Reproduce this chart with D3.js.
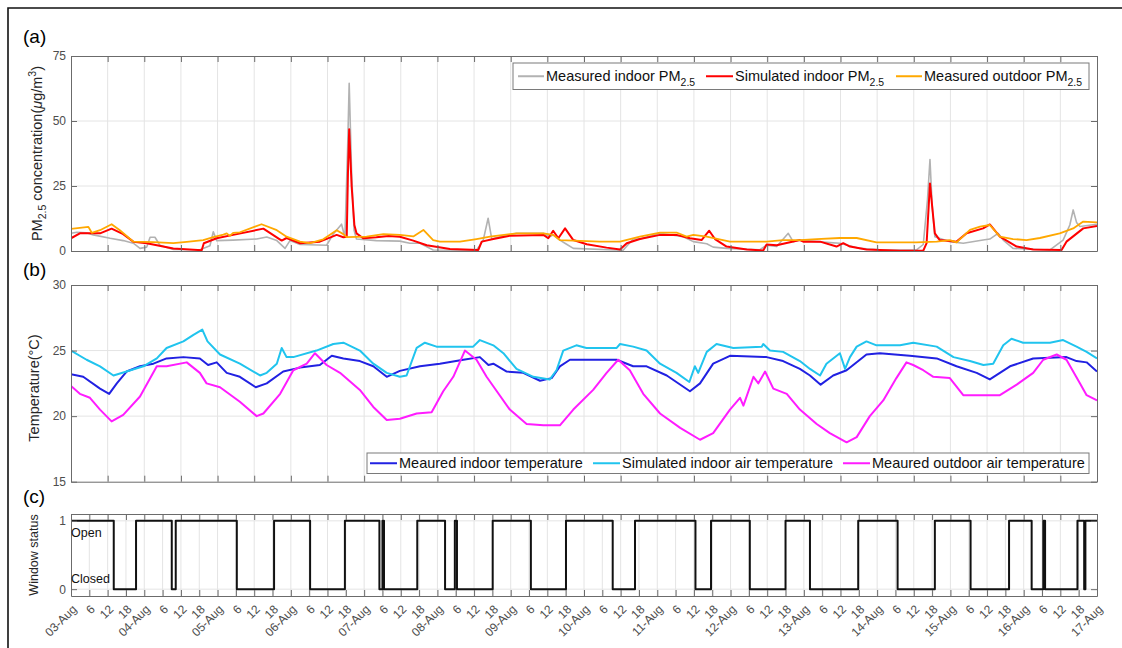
<!DOCTYPE html>
<html>
<head>
<meta charset="utf-8">
<script src="https://cdn.jsdelivr.net/npm/d3@7"></script>
<style>
  body { margin: 0; background: #fff; }
  svg { font-family: "Liberation Sans", Arial, Helvetica, sans-serif; }
</style>
</head>
<body>
<svg id="chart" width="1122" height="648"></svg>
<script>
// ---- Time axis: hours since 03-Aug 00:00, two-week window ----
const totalHours = 336;
const dayLabels = ["03-Aug","04-Aug","05-Aug","06-Aug","07-Aug","08-Aug","09-Aug","10-Aug",
                   "11-Aug","12-Aug","13-Aug","14-Aug","15-Aug","16-Aug","17-Aug"];
const hourLabels = ["6","12","18"];

// ---- (a) PM2.5 concentration, [hour, µg/m³] ----
const pmIndoorMeasured = [[0,6.8],[1.9,7.2],[5.1,7.0],[7.3,6.2],[12.8,4.9],[17.1,4.0],[20.4,3.0],[22.6,1.0],[24.8,1.5],[25.9,5.3],[27.5,5.3],[29.1,2.2],[33.5,0.6],[42.2,0.5],[45.5,2],[46.6,7.4],[47.7,4.0],[53.1,4.2],[60.8,4.6],[64.1,5.4],[67.4,4.0],[70.1,1.0],[71.7,4.0],[75,2.5],[83.7,2.2],[85.9,6.5],[88.6,10.3],[89.7,5.3],[90.6,40],[91.1,64.5],[91.9,30],[92.7,8],[93.5,4.6],[100,4.0],[107.7,3.8],[111,3.0],[114.3,3.0],[118.6,0.4],[132.8,0.3],[135,4.2],[136.6,12.6],[137.8,4.6],[140.5,5.5],[145.9,6.8],[154.7,6.8],[156.8,5.5],[157.9,6.2],[160.1,4.2],[162.3,2.6],[164.5,1.0],[180.8,0.3],[184.1,4.6],[186.3,4.6],[192.9,6.8],[200.5,5.5],[203.8,3.6],[208.2,2.8],[210.3,1.5],[214.7,1.0],[225.6,0.5],[227.8,2.2],[231.1,1.7],[234.9,6.8],[236.5,3.6],[238.7,4.2],[244.2,3.6],[247.4,3.3],[251.8,3.0],[258.4,1.0],[266,0.4],[276.9,0.4],[279.1,2.5],[280.5,20],[281.3,35.2],[282,18],[282.9,5.5],[287.8,3.6],[292.2,3.0],[298.7,4.2],[300.9,4.6],[303.6,6.8],[305.3,4.2],[308.5,1.0],[320.6,0.4],[324.9,4.2],[327.1,10],[328.2,15.8],[329.3,11],[330.4,9.4],[336,10.3]];

const pmIndoorSimulated = [[0,4.9],[2.9,6.8],[9.5,6.8],[13.3,8.6],[17.1,6.5],[20.4,3.6],[24.8,3.0],[33.5,1.0],[42.8,0.3],[43.5,3.0],[47.7,4.9],[53.1,6.2],[63,8.6],[69,4.0],[70.6,5.0],[75,3.0],[81.5,3.6],[87,6.2],[89.2,5.3],[90.3,5.5],[90.7,30],[91.1,46.8],[91.9,25],[92.8,10],[93.5,6.8],[95.7,4.9],[100,5.3],[104,5.8],[107.7,5.5],[112.1,4.0],[116.5,2.2],[124.1,0.8],[133.4,0.4],[134.5,3.6],[138.3,4.6],[143.7,5.9],[154.7,6.2],[156.3,4.9],[157.9,7.8],[159.6,4.9],[161.8,8.7],[164.5,4.2],[168.9,2.6],[175.4,1.3],[179.8,0.6],[182,3.0],[186.3,4.6],[192.9,6.2],[198.3,6.2],[202.7,4.9],[206.5,4.2],[209,7.8],[210.9,4.6],[214.7,1.7],[221.3,0.6],[226.7,0.2],[227.8,2.5],[231.1,2.2],[238.7,4.2],[239.8,3.6],[245.3,3.6],[250.7,1.7],[252.9,3.0],[255.1,1.7],[260.5,0.6],[271.5,0.1],[279.1,0.1],[280.2,3],[281.3,26],[282.2,15],[282.9,6.8],[284.5,4.2],[290,3.6],[293.3,6.8],[298.7,8.7],[300.9,10.2],[304.2,5.5],[309.7,1.7],[315.1,0.6],[324.4,0.4],[326,3.6],[331.5,8.7],[336,9.6]];

const pmOutdoorMeasured = [[0,8.5],[5.7,9.3],[6.8,7],[9.5,8],[13.3,10.3],[16,8],[20.4,3.6],[27,3.4],[33.5,3.0],[37.9,3.5],[43.3,4.2],[46.6,5.3],[49.9,6.3],[51,6.8],[52,5.8],[53.1,7],[55.3,7.2],[62.4,10.3],[67.4,8],[70.6,5.5],[75,3.6],[78.3,3.0],[82.6,4.5],[87,8],[89.2,6.5],[90.3,5.3],[96.8,5.5],[102.3,6.5],[107.7,6.2],[112.1,5.6],[115.4,8.1],[118.6,4.2],[120.8,3.6],[127.4,3.6],[132.8,4.6],[137.2,5.5],[145.9,6.8],[154.7,6.8],[157.9,6.2],[160.1,4.2],[173.2,3.6],[179.8,3.6],[186.3,5.5],[192.9,7.1],[198.3,7.1],[201.6,5.5],[203.8,6.2],[208.2,5.5],[215.8,3.6],[227.8,3.6],[233.2,4.2],[238.7,4.2],[244.2,4.6],[251.8,5.0],[257.3,5.0],[263.8,3.3],[276.9,3.3],[283.5,3.6],[287.8,4.2],[290,3.3],[294.4,8.1],[297.7,9.4],[300.9,10.0],[304.2,5.5],[308.5,4.6],[312.9,4.2],[317.3,5.0],[323.8,6.8],[328.2,8.7],[331.5,11.3],[336,11]];

// ---- (b) Temperature, [hour, °C] ----
const tempIndoorMeasured = [[0,23.2],[4,23.0],[9.5,22.1],[12.5,21.7],[15,22.5],[18.2,23.4],[22.6,23.8],[27,24.0],[31.3,24.4],[36.8,24.5],[42.2,24.4],[44.9,23.9],[47.7,24.1],[51,23.3],[55.3,23.0],[60.5,22.2],[64.1,22.5],[69.5,23.4],[75,23.7],[81.5,23.9],[85.4,24.6],[89.2,24.4],[94.6,24.2],[99,23.8],[103.4,23.0],[107.7,23.45],[114.3,23.8],[120.8,24.0],[128.5,24.3],[133.9,24.5],[136.7,23.9],[138.3,24.0],[142.7,23.4],[148.1,23.3],[153.6,22.7],[157.4,22.9],[160.1,23.8],[163.4,24.3],[171,24.3],[178.7,24.3],[184.1,23.8],[188.5,23.8],[195.1,23.1],[202.7,21.9],[206,22.5],[210.3,24.0],[215.8,24.6],[227.8,24.5],[233.2,24.2],[238.7,23.6],[242,23.1],[245.5,22.4],[249.6,23.1],[254,23.5],[260.5,24.7],[264.9,24.8],[274.7,24.6],[283.5,24.4],[290,23.8],[296.6,23.3],[300.9,22.8],[307.5,23.8],[315.1,24.4],[326,24.5],[329.3,24.2],[332.6,24.1],[336,23.4]];

const tempIndoorSimulated = [[0,25.0],[5.1,24.3],[9.5,23.8],[13.9,23.1],[18.2,23.4],[23.7,23.8],[28.1,24.4],[31.3,25.2],[36.8,25.7],[40.1,26.2],[43,26.6],[44.7,25.7],[48.8,24.7],[55.3,24.0],[61.9,23.1],[64.1,23.3],[67.4,24.0],[69,25.2],[70.6,24.5],[72.8,24.5],[80.4,25.0],[85.9,25.5],[89.2,25.6],[94.6,25.0],[99,24.0],[103.4,23.3],[107.7,23.0],[109.9,23.1],[113.2,25.2],[115.9,25.6],[119.7,25.3],[131.7,25.3],[133.9,25.8],[138.3,25.4],[141.6,24.8],[145.9,23.6],[151.4,23.0],[156.8,22.8],[159,23.5],[161.2,25.0],[165.5,25.4],[168.8,25.2],[178.7,25.2],[179.8,25.5],[184.1,25.3],[188.5,25.0],[192.9,24.0],[198.3,23.3],[202.5,22.6],[204.3,23.8],[205.4,23.3],[208.2,24.9],[211.4,25.5],[216.9,25.2],[226.2,25.3],[226.7,25.5],[228.9,25.0],[233.2,24.9],[238.7,24.2],[242,23.6],[245.3,23.1],[247.4,24.0],[251.8,24.8],[253.5,23.6],[255.1,24.5],[257.3,25.3],[260.5,25.7],[263.8,25.4],[271.5,25.4],[275.8,25.6],[283.5,25.3],[289,24.5],[294.4,24.2],[298.8,23.9],[302,24.0],[305.3,25.4],[308,25.9],[311.8,25.6],[320.6,25.6],[324.9,25.8],[329.3,25.3],[332.6,24.9],[336,24.4]];

const tempOutdoorMeasured = [[0,22.3],[2.9,21.7],[6.2,21.4],[9.5,20.5],[13.3,19.6],[17.1,20.1],[22.6,21.5],[28.1,23.8],[31.3,23.8],[37.9,24.1],[42.2,23.3],[44.4,22.5],[48.8,22.2],[55.3,21.1],[60.8,20.0],[63,20.2],[68.5,21.7],[72.8,23.5],[77.2,24.0],[79.9,24.8],[83.7,23.9],[88.1,23.3],[94.6,22.0],[99,20.7],[103.4,19.7],[107.7,19.8],[113.2,20.2],[118.1,20.3],[121.9,21.9],[125.2,23.0],[129,25.0],[132.8,24.3],[136.1,23.0],[143.7,20.5],[149.2,19.4],[154.7,19.3],[160.1,19.3],[164.5,20.5],[171,22.0],[175.4,23.3],[179.2,24.3],[183,23.5],[187.4,21.7],[192.9,20.2],[199.5,19.1],[206,18.2],[210.3,18.7],[215.8,20.5],[219.1,21.4],[220.2,20.8],[223.5,23.0],[225.1,22.5],[227.3,23.4],[230,22.1],[234.4,21.7],[238.7,20.5],[244.2,19.4],[248.5,18.7],[254,18.0],[257.3,18.4],[261.6,20.0],[266,21.2],[270.3,22.9],[273.6,24.1],[275.8,23.9],[279.1,23.5],[282.4,23.0],[287.8,22.9],[292.2,21.6],[298.7,21.6],[304.2,21.6],[309.7,22.4],[315.1,23.3],[318.4,24.3],[322.8,24.7],[326,24.3],[330.4,22.5],[332.6,21.6],[336,21.2]];

// ---- (c) Window status changes, [hour, state] (1 = open, 0 = closed) ----
const windowStatus = [[0,1],[14,0],[21.3,1],[33,0],[34.3,1],[54.3,0],[66.5,1],[78.3,0],[89.7,1],[101,0],[102,1],[102.5,0],[113.4,1],[122.5,0],[125.7,1],[126.4,0],[138.1,1],[150.6,0],[162.1,1],[177.4,0],[184.7,1],[204.5,0],[209.6,1],[222.3,0],[234,1],[242,0],[257.8,1],[270.7,0],[282.9,1],[294.6,0],[307.2,1],[314.6,0],[318.4,1],[319,0],[329.6,1],[331.8,0],[332.2,1],[336,1]];

const pmTicks = [0,25,50,75];
const tempTicks = [15,20,25,30];
const statusTicks = [0,1];

// ---- Drawing ----
const svg = d3.select("#chart");
const X0 = 71, X1 = 1097;
const x = d3.scaleLinear().domain([0, totalHours]).range([X0, X1]);
const axisColor = "#6b6b6b";
const gridColor = "#e4e4e4";
const tickLabelColor = "#4d4d4d";

// figure frame
svg.append("path").attr("d", "M8,700 V8 H1130")
  .attr("fill", "none").attr("stroke", "#111").attr("stroke-width", 1.6);

function makePanel(cfg) {
  const y = d3.scaleLinear().domain(cfg.domain).range([cfg.bottom, cfg.top]);
  const g = svg.append("g");
  const xTickVals = d3.range(0, totalHours + 0.001, cfg.xStep);

  // grid
  g.append("g").selectAll("line").data(xTickVals.slice(1, -1)).join("line")
    .attr("x1", d => x(d)).attr("x2", d => x(d))
    .attr("y1", cfg.top).attr("y2", cfg.bottom)
    .attr("stroke", gridColor).attr("stroke-width", 1);
  g.append("g").selectAll("line").data(cfg.gridY).join("line")
    .attr("x1", X0).attr("x2", X1)
    .attr("y1", d => y(d)).attr("y2", d => y(d))
    .attr("stroke", gridColor).attr("stroke-width", 1);

  // series
  const clipId = "clip-" + cfg.id;
  svg.append("clipPath").attr("id", clipId).append("rect")
    .attr("x", X0).attr("y", cfg.top).attr("width", X1 - X0).attr("height", cfg.bottom - cfg.top);
  const lines = g.append("g").attr("clip-path", `url(#${clipId})`);
  cfg.series.forEach(s => {
    const line = d3.line().x(d => x(d[0])).y(d => y(d[1])).curve(s.curve || d3.curveLinear);
    lines.append("path").datum(s.data).attr("d", line)
      .attr("fill", "none").attr("stroke", s.color).attr("stroke-width", s.width)
      .attr("stroke-linejoin", "round");
  });

  // axes with inward ticks
  const fmtX = h => {
    const r = h % 24;
    return r === 0 ? dayLabels[h / 24] : hourLabels[r / 6 - 1];
  };
  const bottom = g.append("g").attr("transform", `translate(0,${cfg.bottom})`)
    .call(d3.axisBottom(x).tickValues(xTickVals).tickSizeInner(-6).tickSizeOuter(0)
      .tickPadding(4).tickFormat(cfg.xLabels ? fmtX : ""));
  g.append("g").attr("transform", `translate(0,${cfg.top})`)
    .call(d3.axisTop(x).tickValues(xTickVals).tickSizeInner(-6).tickSizeOuter(0).tickFormat(""));
  g.append("g").attr("transform", `translate(${X0},0)`)
    .call(d3.axisLeft(y).tickValues(cfg.yTicks).tickSizeInner(-6).tickSizeOuter(0)
      .tickPadding(5).tickFormat(d3.format("d")));
  g.append("g").attr("transform", `translate(${X1},0)`)
    .call(d3.axisRight(y).tickValues(cfg.yTicks).tickSizeInner(-6).tickSizeOuter(0).tickFormat(""));

  g.selectAll(".domain").attr("stroke", axisColor);
  g.selectAll(".tick line").attr("stroke", axisColor);
  g.selectAll(".tick text").attr("fill", tickLabelColor)
    .style("font-size", "12px").style("font-family", "'Liberation Sans', Arial, sans-serif");

  if (cfg.xLabels) {
    bottom.selectAll(".tick text")
      .attr("x", 0).attr("y", 0).attr("dy", "0.35em")
      .attr("text-anchor", "end")
      .attr("transform", "translate(3,11) rotate(-45)");
  }
  return { g, y };
}

// (a)
const pa = makePanel({
  id: "a", top: 56, bottom: 251, domain: [0, 75], yTicks: pmTicks, gridY: [25, 50], xStep: 12,
  series: [
    { data: pmIndoorMeasured, color: "#b2b2b2", width: 1.6 },
    { data: pmIndoorSimulated, color: "#ff0000", width: 2 },
    { data: pmOutdoorMeasured, color: "#ffa800", width: 1.8 }
  ]
});

// (b)
const pb = makePanel({
  id: "b", top: 285, bottom: 481.7, domain: [15, 30], yTicks: tempTicks, gridY: [20, 25], xStep: 12,
  series: [
    { data: tempIndoorMeasured, color: "#2121e2", width: 2 },
    { data: tempIndoorSimulated, color: "#20c4ee", width: 2 },
    { data: tempOutdoorMeasured, color: "#ff1cff", width: 2 }
  ]
});

// (c)
const pc = makePanel({
  id: "c", top: 514, bottom: 596, domain: [-0.1, 1.1], yTicks: statusTicks, gridY: [0, 1], xStep: 6,
  xLabels: true,
  series: [
    { data: windowStatus, color: "#111", width: 2, curve: d3.curveStepAfter }
  ]
});

// panel tags
[["(a)", 43], ["(b)", 276], ["(c)", 503]].forEach(([t, yy]) => {
  svg.append("text").attr("x", 23).attr("y", yy).text(t)
    .style("font-size", "19px").attr("fill", "#000");
});

// y-axis titles
const yTitleA = svg.append("text").attr("transform", "translate(41.5,153.5) rotate(-90)")
  .attr("text-anchor", "middle").attr("fill", "#262626").style("font-size", "14.5px");
yTitleA.append("tspan").text("PM");
yTitleA.append("tspan").text("2.5").style("font-size", "10.5px").attr("dy", 4);
yTitleA.append("tspan").text(" concentration(").attr("dy", -4);
yTitleA.append("tspan").text("\u03BC").style("font-style", "italic");
yTitleA.append("tspan").text("g/m");
yTitleA.append("tspan").text("3").style("font-size", "10.5px").attr("dy", -6);
yTitleA.append("tspan").text(")").attr("dy", 6);

svg.append("text").attr("transform", "translate(39,388) rotate(-90)")
  .attr("text-anchor", "middle").attr("fill", "#262626").style("font-size", "14.5px")
  .text("Temperature(\u00B0C)");

svg.append("text").attr("transform", "translate(37.5,555) rotate(-90)")
  .attr("text-anchor", "middle").attr("fill", "#262626").style("font-size", "12.5px")
  .text("Window status");

// status annotations
svg.append("text").attr("x", 71).attr("y", pc.y(1) + 16).text("Open")
  .style("font-size", "12.5px").attr("fill", "#111");
svg.append("text").attr("x", 71).attr("y", pc.y(0) - 6).text("Closed")
  .style("font-size", "12.5px").attr("fill", "#111");

// legends
function legend(box, items, fs) {
  const lg = svg.append("g");
  lg.append("rect").attr("x", box.x).attr("y", box.y).attr("width", box.w).attr("height", box.h)
    .attr("fill", "#fff").attr("stroke", "#7a7a7a").attr("stroke-width", 1);
  const cy = box.y + box.h / 2;
  items.forEach(it => {
    lg.append("line").attr("x1", it.x).attr("x2", it.x + it.len).attr("y1", cy).attr("y2", cy)
      .attr("stroke", it.color).attr("stroke-width", 2);
    const t = lg.append("text").attr("x", it.x + it.len + 2).attr("y", cy + fs * 0.36)
      .style("font-size", fs + "px").attr("fill", "#111");
    t.append("tspan").text(it.label);
    if (it.sub) t.append("tspan").text(it.sub).style("font-size", (fs * 0.72) + "px").attr("dy", 5);
  });
}

legend({ x: 513, y: 63, w: 576, h: 26.5 }, [
  { x: 518, len: 26, color: "#b2b2b2", label: "Measured indoor PM", sub: "2.5" },
  { x: 706, len: 27, color: "#ff0000", label: "Simulated indoor PM", sub: "2.5" },
  { x: 896, len: 26, color: "#ffa800", label: "Measured outdoor PM", sub: "2.5" }
], 14.5);

legend({ x: 367, y: 453, w: 722, h: 20.5 }, [
  { x: 370, len: 27, color: "#2121e2", label: "Meaured indoor temperature" },
  { x: 593, len: 27, color: "#20c4ee", label: "Simulated indoor air temperature" },
  { x: 843, len: 27, color: "#ff1cff", label: "Meaured outdoor air temperature" }
], 14.5);
</script>
</body>
</html>
